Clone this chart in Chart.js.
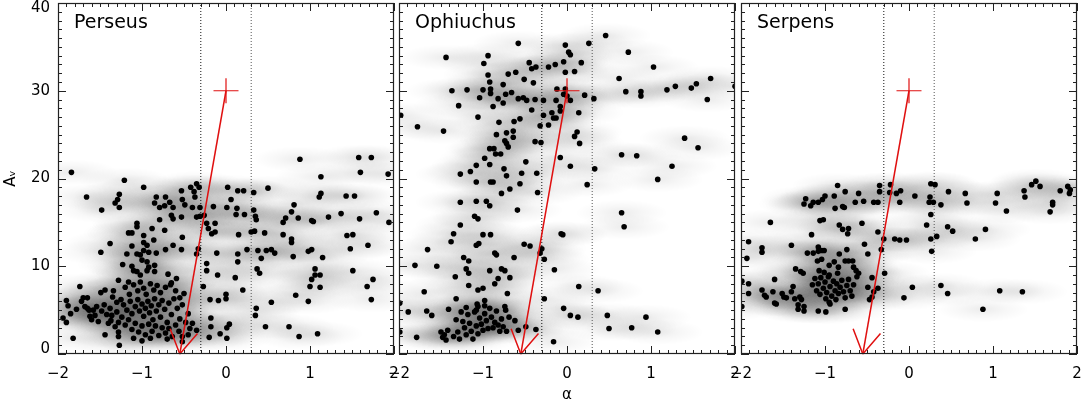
<!DOCTYPE html>
<html>
<head>
<meta charset="utf-8">
<script src="https://cdn.jsdelivr.net/npm/chart.js@4.4.0/dist/chart.umd.min.js"></script>
<style>
body { margin: 0; background: #fff; width: 1082px; height: 404px; overflow: hidden; position: relative; }
canvas { position: absolute; top: 0; }
</style>
</head>
<body>
<canvas id="c0" width="420" height="404" style="left:0px"></canvas>
<canvas id="c1" width="390" height="404" style="left:370px"></canvas>
<canvas id="c2" width="370" height="404" style="left:712px"></canvas>
<script>
var regions = ["Perseus", "Ophiuchus", "Serpens"];
var xTicks = [-2, -1, 0, 1, 2];
var yTicks = [0, 10, 20, 30, 40];
var cuts = [-0.3, 0.3];
var crossPt = [0, 30];
var arrowTip = [-0.55, 0];

// [alpha, A_V]
var perseusPts = [
 [-1.84,20.7],[-1.66,17.9],[-1.21,19.8],[-1.27,18.2],[-1.29,17.6],[-0.98,19.0],[-0.83,17.9],[-0.72,17.9],[-0.53,18.6],[-0.42,19.0],[-0.35,19.4],[-0.32,19.0],[-0.38,18.5],[-0.37,17.9],[-0.52,17.6],
 [0.02,19.0],[0.06,17.6],[0.14,18.6],[0.21,18.6],[0.33,18.4],[0.50,18.9],[0.88,22.2],[1.13,20.2],[1.13,18.3],[1.11,17.9],[1.43,18.0],[1.53,18.0],[1.58,22.4],[1.73,22.4],[1.60,20.7],[1.93,20.5],
 [-1.32,17.2],[-1.27,16.7],[-0.85,17.2],[-0.79,16.7],[-0.73,16.9],[-0.67,17.3],[-0.63,16.7],[-0.49,17.0],[-0.40,16.7],[-0.31,16.7],[-0.15,16.8],[0.01,16.7],[0.13,16.6],[0.22,15.9],[0.12,15.9],[0.33,16.4],[0.36,15.3],[0.35,15.7],
 [0.81,17.0],[0.78,16.2],[0.71,15.5],[0.68,15.0],[0.86,15.5],[1.02,15.2],[1.04,15.1],[1.22,15.6],[1.37,16.0],[1.59,15.4],[1.79,16.1],[1.94,15.0],
 [-1.48,16.4],[-0.65,15.8],[-0.63,15.4],[-0.53,15.6],[-0.35,15.6],[-0.31,15.7],[-0.26,15.8],[-0.23,14.9],[-0.13,14.9],[-0.21,14.3],[-0.17,13.7],[-0.13,13.9],
 [0.15,13.6],[0.30,13.9],[0.34,14.0],[0.46,13.8],[0.68,13.6],[0.78,13.1],[0.78,12.7],[1.44,13.5],[1.51,13.6],[1.69,12.4],[1.48,12.0],
 [-1.06,14.9],[-1.06,14.5],[-1.16,13.8],[-1.12,13.8],[-0.98,13.5],[-0.88,14.3],[-0.79,15.3],[-0.73,14.1],[-0.52,13.3],
 [-1.38,12.6],[-1.12,12.3],[-0.98,12.7],[-0.94,12.4],[-0.86,13.0],[-0.72,11.9],[-0.63,12.4],[-0.53,11.9],
 [-1.49,11.6],[-1.18,11.4],[-1.06,11.4],[-1.02,11.3],[-0.98,11.8],[-0.92,11.6],[-0.83,11.5],[-0.33,12.0],[-0.35,11.4],[-0.11,11.5],[0.14,11.4],[0.25,11.9],
 [0.38,11.8],[0.48,11.8],[0.54,11.9],[0.58,11.5],[0.80,11.1],[0.42,10.9],[1.15,11.0],[1.02,11.9],[0.98,11.7],[0.14,10.5],[-0.23,10.3],[-0.23,9.5],
 [-1.23,10.2],[-1.12,10.0],[-1.10,9.5],[-1.00,10.7],[-0.94,10.5],[-0.92,9.9],[-0.94,9.5],[-0.85,10.1],[-0.85,9.4],[-0.69,9.1],[-0.59,8.6],[-0.65,8.1],[-1.06,9.4],[-1.02,9.0],[-1.28,8.4],[-1.16,8.2],
 [0.37,9.7],[0.40,9.2],[1.06,9.7],[1.06,9.0],[1.12,9.0],[1.02,8.5],[1.00,7.7],[1.12,7.6],[1.51,9.5],[1.75,8.5],[1.68,7.7],[1.73,6.2],
 [-0.10,9.0],[0.11,8.7],[0.20,7.3],[-0.27,7.7],[0.83,6.7],[0.98,6.0],[0.54,5.9],[0.36,5.2],[0.35,4.4],[0.47,3.1],[0.75,3.1],[0.87,2.0],[1.09,2.3],
 [-0.19,6.2],[-0.09,6.1],[0.00,6.8],[0.00,6.3],[-0.18,4.1],[-0.18,3.1],[-0.07,2.3],[0.01,3.0],[0.01,1.8],[0.04,3.4],[-0.20,1.9],[-0.35,2.7],[-0.43,2.9],[-0.52,2.0],
 [-1.74,7.7],[-1.70,6.4],[-1.65,6.4],[-1.90,6.1],[-1.88,5.5],[-1.94,4.1],[-1.82,1.8],[-1.65,5.2],[-1.63,5.0],[-1.60,3.9],[-1.56,4.4],[-1.54,5.4],[-1.44,2.2],[-1.49,7.0],[-1.44,7.3],
 [-1.38,5.2],[-1.36,4.4],[-1.37,3.8],[-1.34,7.2],[-1.32,3.1],[-1.28,2.5],[-1.28,2.0],[-1.27,1.0],
 [-1.20,7.6],[-1.15,6.8],[-1.10,7.9],[-1.05,7.2],[-1.02,8.2],[-0.98,7.5],[-0.95,6.8],[-0.90,8.0],[-0.86,7.3],[-0.82,7.8],[-0.78,7.0],[-0.72,7.6],[-0.66,7.9],[-0.60,7.2],[-0.55,6.4],[-0.50,6.9],
 [-1.25,6.2],[-1.22,5.6],[-1.18,5.0],[-1.14,6.0],[-1.12,4.6],[-1.08,5.4],[-1.05,6.2],[-1.03,4.9],[-1.00,5.7],[-0.98,4.3],[-0.96,5.2],[-0.93,6.0],[-0.91,4.7],[-0.89,5.5],[-0.87,3.9],[-0.85,6.3],
 [-0.83,4.9],[-0.80,5.6],[-0.78,4.2],[-0.76,6.1],[-0.73,5.1],[-0.70,3.6],[-0.68,5.8],[-0.65,4.5],[-0.62,6.3],[-0.58,5.2],[-0.55,4.0],[-0.52,5.6],[-0.48,3.6],[-0.45,4.6],
 [-1.30,4.8],[-1.28,3.6],[-1.24,4.2],[-1.20,3.3],[-1.16,3.9],[-1.12,2.8],[-1.08,3.5],[-1.04,2.5],[-1.00,3.2],[-0.96,2.2],[-0.92,3.4],[-0.88,2.6],[-0.84,3.2],[-0.80,2.1],[-0.76,3.0],[-0.72,2.4],[-0.68,2.9],[-0.64,2.0],[-0.60,3.3],[-0.56,2.6],
 [-1.45,5.6],[-1.42,4.5],[-1.40,3.5],[-1.48,4.9],[-1.52,3.7],[-1.35,6.5],[-1.30,5.9],[-1.58,5.0],[-1.62,4.3],[-1.68,5.4],[-1.72,6.0],[-1.78,5.1],[-1.85,4.6],[-1.90,3.6],
 [-1.10,1.8],[-1.00,1.5],[-0.90,1.8],[-0.70,1.7],[-0.52,1.4],[-0.45,2.2],[-0.40,3.5]
];

var ophiuchusPts = [
 [-0.58,35.4],[-1.44,33.8],[-0.94,34.0],[-0.99,33.1],[-0.94,31.8],[-0.92,31.0],[-1.37,30.0],[-1.19,30.1],[-1.00,30.1],[-0.91,30.2],[-0.91,29.7],[-1.04,29.2],[-1.29,28.3],[-0.88,28.2],[-0.82,29.1],[-0.76,30.7],
 [-0.70,31.9],[-0.61,32.1],[-0.73,29.6],[-0.66,29.8],[-0.76,28.6],[-0.58,29.1],[-0.52,29.2],[-0.48,28.9],[-0.51,31.3],[-0.40,30.9],[-0.45,33.2],[-0.42,32.5],[-0.37,32.7],[-0.42,27.8],[-0.38,29.0],[-0.28,28.9],
 [-0.22,32.7],[-0.14,33.0],[-0.04,33.3],[-0.02,35.2],[0.02,34.4],[0.04,34.1],[-0.02,32.1],[0.09,32.2],[0.17,33.2],[0.26,35.4],[0.46,36.3],[0.73,34.4],[1.03,32.7],[0.62,31.4],[0.70,29.9],[0.88,29.9],[0.88,29.4],
 [1.19,30.1],[1.29,30.5],[1.48,30.3],[1.54,30.8],[1.71,31.4],[1.67,29.0],[2.00,30.5],
 [-0.12,30.2],[-0.04,29.6],[-0.02,30.2],[-0.13,28.9],[-0.08,28.2],[-0.08,27.7],[0.04,28.9],[0.00,29.4],[0.21,29.5],[0.32,29.1],[0.14,27.5],[-0.28,27.2],[-0.18,27.5],[-0.16,26.9],[-0.13,26.9],
 [-0.56,26.8],[-0.32,26.0],[-0.22,26.1],[-0.81,26.4],[-0.63,26.5],[-1.06,27.0],[-1.78,25.9],[-1.47,25.4],[-1.98,27.2],
 [-0.84,25.0],[-0.72,25.2],[-0.64,25.4],[-0.74,24.3],[-0.72,24.0],[-0.64,24.7],[-0.70,23.6],[-0.92,23.4],[-0.87,23.4],[-0.85,22.8],[-0.79,22.8],[-0.38,24.2],[-0.31,24.1],[0.09,24.8],[0.12,25.3],[0.15,24.0],
 [-0.08,22.4],[0.04,21.4],[-0.98,22.3],[-0.49,21.9],[-0.92,21.6],[-1.08,21.5],[-1.15,20.8],[-1.27,20.5],[-0.75,21.1],[-0.72,20.3],[-0.54,20.6],[-0.36,20.6],[-1.08,19.6],[-0.91,19.6],[-0.88,19.6],
 [-0.56,19.4],[-0.68,18.8],[-0.78,18.3],[-0.35,18.4],[0.24,19.3],[0.33,21.1],[0.65,22.7],[0.83,22.6],[1.40,24.6],[1.56,23.5],[1.25,21.4],[1.08,19.9],
 [-1.27,17.3],[-1.08,17.4],[-0.96,17.4],[-0.92,16.9],[-0.59,16.4],[-1.10,15.7],[-1.06,15.4],[-1.27,14.7],[-1.35,13.7],[-1.38,12.8],[-1.00,13.6],[-0.91,13.6],[-1.08,12.4],[-1.05,12.6],[-1.66,11.9],
 [-0.07,13.7],[-0.05,13.6],[-0.51,12.5],[-0.44,12.3],[-0.30,12.0],[-0.32,11.5],[-0.27,10.8],[-0.86,11.5],[-0.84,11.3],[-0.63,11.0],[-1.23,11.0],[-1.17,10.6],[-1.81,10.1],[-1.55,10.0],
 [-1.20,9.7],[-1.17,9.2],[-1.33,8.8],[-0.92,9.5],[-0.78,9.7],[-0.74,9.5],[-0.82,8.6],[-0.68,8.7],[-0.15,9.6],[-1.06,7.3],[-1.00,7.5],[-1.17,7.8],[-0.86,8.0],[-1.70,7.1],[-0.71,6.9],[0.14,7.7],[0.37,7.2],
 [-0.27,6.3],[-1.32,6.3],[-0.98,6.1],[-1.07,5.7],[-1.06,5.4],[-1.99,5.8],[-1.89,4.8],[-1.67,4.9],[-1.61,4.4],[-1.41,5.1],[-0.04,5.2],[0.04,4.4],[0.13,4.2],[0.48,4.4],[0.94,4.2],[0.50,2.9],[0.77,3.0],[1.08,2.5],
 [-0.16,1.4],[-1.79,1.9],[-1.99,2.5],[0.65,16.1],[0.68,14.5],[-0.49,3.1],[-0.37,2.8],[-0.62,3.8],[-0.58,2.7],[-0.74,5.4],[-0.73,5.0],[-0.69,4.2],
 [-1.50,2.5],[-1.48,1.9],[-1.46,2.2],[-1.44,1.6],[-1.42,2.7],[-1.35,2.0],[-1.30,2.5],[-1.28,1.7],[-1.24,3.7],[-1.22,3.0],[-1.20,2.2],[-1.18,4.5],[-1.16,3.5],[-1.14,2.6],[-1.12,1.7],[-1.10,4.8],
 [-1.08,3.2],[-1.06,2.3],[-1.04,4.1],[-1.02,3.4],[-1.00,2.7],[-0.98,4.6],[-0.96,3.8],[-0.94,2.9],[-0.92,5.2],[-0.90,4.2],[-0.88,3.0],[-0.86,3.6],[-0.84,4.9],[-0.82,3.3],[-0.80,2.6],[-0.78,4.0],
 [-0.76,3.1],[-0.72,2.6],[-1.26,4.8],[-1.20,5.3],[-1.08,5.0],[-0.98,5.5],[-1.32,3.9]
];

var serpensPts = [
 [-0.85,19.2],[-0.76,18.5],[-0.60,18.3],[-0.35,19.2],[-0.35,18.5],[-0.22,19.3],[-0.23,18.4],[-0.15,18.3],[-0.10,18.6],[0.07,18.0],[0.25,17.9],[0.26,19.4],[0.31,19.3],[0.47,18.5],[0.67,18.3],[1.05,18.3],
 [1.37,18.6],[1.38,17.9],[1.46,19.3],[1.51,19.7],[1.56,19.1],[1.80,18.6],[1.89,19.1],[1.92,18.7],[1.91,18.3],[-1.23,17.7],[-1.00,18.0],[-0.89,18.0],[-1.03,17.6],
 [-1.25,17.1],[-1.17,16.9],[-1.14,17.3],[-1.08,17.3],[-0.88,16.6],[-0.77,16.7],[-0.79,16.8],[-0.64,17.3],[-0.54,17.4],[-0.42,17.3],[-0.37,17.3],[-0.11,17.3],[0.24,17.3],[0.29,17.3],[0.38,17.0],
 [0.26,15.9],[0.69,17.2],[1.03,17.2],[1.16,16.3],[1.71,17.3],[1.71,17.0],[1.68,16.2],
 [-1.65,15.0],[-1.06,15.2],[-1.02,15.3],[-0.83,14.7],[-0.79,14.2],[-0.72,14.3],[-0.73,13.7],[-0.56,14.9],[-1.16,13.6],[0.21,14.7],[0.46,14.5],[0.52,14.0],[-0.37,13.9],[0.91,14.2],[0.79,13.1],
 [-0.17,13.1],[-0.11,13.0],[-0.03,13.0],[0.26,13.1],[0.33,13.4],[-0.30,13.1],
 [-1.91,12.8],[-1.75,12.1],[-1.75,11.6],[-1.40,12.4],[-1.08,12.2],[-1.04,11.8],[-1.01,11.8],[-1.08,11.7],[-1.21,11.5],[-1.14,11.5],[-0.83,11.4],[-0.74,11.9],[-0.53,12.5],[-0.49,11.4],[-0.33,11.9],[0.27,11.7],
 [-1.93,10.9],[-1.09,10.6],[-1.04,10.8],[-1.07,9.5],[-1.01,9.3],[-0.95,10.1],[-0.89,10.5],[-0.84,9.9],[-0.85,9.2],[-0.76,10.6],[-0.72,10.6],[-0.67,10.6],[-0.66,9.9],[-0.63,9.5],[-0.60,9.2],[-0.62,8.8],
 [-1.35,9.7],[-1.26,9.2],[-1.29,9.4],[-1.60,8.5],[-1.38,7.7],[-1.40,7.1],[-1.99,8.3],[-1.91,8.0],[-1.91,6.9],[-1.75,7.3],[-1.72,6.7],[-1.70,6.5],[-1.62,7.1],[-1.51,6.9],[-1.49,6.5],[-1.46,6.4],
 [-1.60,5.8],[-1.58,5.7],[-1.36,6.3],[-1.30,6.5],[-1.28,6.2],[-1.32,5.6],[-1.25,5.4],[-1.32,5.1],[-1.25,4.9],[-1.08,4.9],[-0.99,4.8],[-0.95,5.9],[-0.94,5.7],[-0.76,5.1],[-1.99,5.4],
 [-0.44,8.7],[-0.49,7.6],[-0.42,7.1],[-0.37,7.5],[-0.47,6.2],[-0.44,6.5],[-0.29,9.2],[0.04,7.6],[-0.06,6.4],[0.38,7.8],[0.46,6.9],[0.88,5.1],[1.08,7.2],[1.35,7.1],
 [-1.12,8.6],[-1.08,8.0],[-1.05,8.7],[-1.02,7.5],[-1.00,8.2],[-0.98,7.0],[-0.96,8.8],[-0.94,7.7],[-0.92,6.6],[-0.90,8.3],[-0.88,7.2],[-0.86,8.0],[-0.84,6.9],[-0.82,7.6],[-0.80,8.4],[-0.78,7.1],
 [-0.76,6.4],[-0.74,7.8],[-0.72,8.5],[-0.70,7.2],[-0.68,6.6],[-0.66,7.9],[-1.10,7.2],[-1.06,6.8],[-0.99,6.3],[-0.87,6.2],[-1.15,7.9],[-0.95,9.0]
];

var allPts = [perseusPts, ophiuchusPts, serpensPts];

function fmt(v) {
    return v < 0 ? "\u2212" + Math.abs(v) : String(v);
}

function toXY(arr) {
    return arr.map(function(p) { return { x: p[0], y: p[1] }; });
}

// grey smear under the dots, one elongated soft blob per star
var shadePlugin = {
    id: "shade",
    beforeDatasetsDraw: function(chart) {
        var ctx = chart.ctx, a = chart.chartArea;
        var xs = chart.scales.x, ys = chart.scales.y;
        var ds = chart.data.datasets.find(function(d) { return d.label === "stars"; });
        ctx.save();
        ctx.beginPath();
        ctx.rect(a.left, a.top, a.right - a.left, a.bottom - a.top);
        ctx.clip();
        ds.data.forEach(function(p) {
            var px = xs.getPixelForValue(p.x), py = ys.getPixelForValue(p.y);
            ctx.save();
            ctx.translate(px, py);
            ctx.scale(1, 0.28);
            var g = ctx.createRadialGradient(0, 0, 0, 0, 0, 46);
            g.addColorStop(0, "rgba(0,0,0,0.075)");
            g.addColorStop(0.5, "rgba(0,0,0,0.032)");
            g.addColorStop(1, "rgba(0,0,0,0)");
            ctx.fillStyle = g;
            ctx.fillRect(-46, -46, 92, 92);
            ctx.restore();
        });
        ctx.restore();
    }
};

// frame with inward ticks, arrow head and region name
var framePlugin = {
    id: "frame",
    afterDatasetsDraw: function(chart, args, opts) {
        var ctx = chart.ctx, a = chart.chartArea;
        var xs = chart.scales.x, ys = chart.scales.y;
        ctx.save();

        // arrow head
        var tx = xs.getPixelForValue(arrowTip[0]), ty = ys.getPixelForValue(arrowTip[1]);
        var sx = xs.getPixelForValue(crossPt[0]), sy = ys.getPixelForValue(crossPt[1]);
        var ang = Math.atan2(sy - ty, sx - tx);
        ctx.strokeStyle = "#e01010";
        ctx.lineWidth = 1.5;
        ctx.beginPath();
        [-0.54, 0.54].forEach(function(d) {
            ctx.moveTo(tx, ty);
            ctx.lineTo(tx + 27 * Math.cos(ang + d), ty + 27 * Math.sin(ang + d));
        });
        ctx.stroke();

        ctx.strokeStyle = "#222";
        ctx.lineWidth = 1;
        ctx.beginPath();
        for (var i = -20; i <= 20; i++) {
            var px = Math.round(xs.getPixelForValue(i / 10)) + 0.5;
            var len = (i % 10 === 0) ? 8 : 4;
            ctx.moveTo(px, a.bottom); ctx.lineTo(px, a.bottom - len);
            ctx.moveTo(px, a.top); ctx.lineTo(px, a.top + len);
        }
        for (var j = 0; j <= 40; j++) {
            var py = Math.round(ys.getPixelForValue(j)) + 0.5;
            var l2 = (j % 10 === 0) ? 8 : 4;
            ctx.moveTo(a.left, py); ctx.lineTo(a.left + l2, py);
            ctx.moveTo(a.right, py); ctx.lineTo(a.right - l2, py);
        }
        ctx.stroke();
        ctx.lineWidth = 1.2;
        ctx.strokeRect(a.left + 0.5, a.top + 0.5, a.right - a.left - 1, a.bottom - a.top - 1);

        ctx.fillStyle = "#000";
        ctx.font = "19px 'DejaVu Sans'";
        ctx.textBaseline = "middle";
        ctx.textAlign = "left";
        ctx.fillText(opts.name, a.left + 16, a.top + 20);
        ctx.restore();
    }
};

function makePanel(k) {
    var first = k === 0;
    var pts = allPts[k];
    var ctx = document.getElementById("c" + k).getContext("2d");
    var pads = [{ left: 0, right: 26 }, { left: 29, right: 25 }, { left: 29, right: 5 }][k];

    return new Chart(ctx, {
        type: "scatter",
        data: {
            datasets: [{
                label: "arrow",
                type: "line",
                data: [{ x: crossPt[0], y: crossPt[1] }, { x: arrowTip[0], y: arrowTip[1] }],
                borderColor: "#e01010",
                borderWidth: 1.5,
                pointRadius: 0,
                fill: false
            }, {
                label: "cross",
                data: [{ x: crossPt[0], y: crossPt[1] }],
                pointStyle: "cross",
                pointRadius: 12.5,
                borderColor: "#e01010",
                borderWidth: 1.2
            }, {
                label: "stars",
                data: toXY(pts),
                pointRadius: 2.8,
                borderWidth: 0,
                backgroundColor: "#000"
            }, {
                label: "cutLo",
                type: "line",
                data: [{ x: cuts[0], y: 0 }, { x: cuts[0], y: 40 }],
                borderColor: "#111",
                borderWidth: 1,
                borderDash: [1, 2],
                pointRadius: 0
            }, {
                label: "cutHi",
                type: "line",
                data: [{ x: cuts[1], y: 0 }, { x: cuts[1], y: 40 }],
                borderColor: "#555",
                borderWidth: 1,
                borderDash: [1, 2],
                pointRadius: 0
            }]
        },
        options: {
            responsive: false,
            animation: false,
            layout: { autoPadding: false, padding: { left: pads.left, right: pads.right, top: 3, bottom: 0 } },
            plugins: {
                legend: { display: false },
                tooltip: { enabled: false },
                frame: { name: regions[k] }
            },
            scales: {
                x: {
                    type: "linear",
                    min: -2,
                    max: 2,
                    afterBuildTicks: function(s) { s.ticks = xTicks.map(function(v) { return { value: v }; }); },
                    afterFit: function(s) { s.height = 50; s.paddingLeft = 0; s.paddingRight = 0; },
                    grid: { display: false, drawTicks: false },
                    border: { display: false },
                    ticks: {
                        autoSkip: false,
                        maxRotation: 0,
                        padding: 11,
                        color: "#000",
                        font: { family: "DejaVu Sans", size: 15 },
                        callback: function(v) { return fmt(v); }
                    },
                    title: {
                        display: k === 1,
                        text: "\u03b1",
                        color: "#000",
                        font: { family: "DejaVu Sans", size: 15 },
                        padding: { top: 0, bottom: 0 }
                    }
                },
                y: {
                    type: "linear",
                    min: 0,
                    max: 40,
                    display: first,
                    afterBuildTicks: function(s) { s.ticks = yTicks.map(function(v) { return { value: v }; }); },
                    afterFit: function(s) {
                        if (first) { s.width = 58; }
                        s.paddingTop = 0; s.paddingBottom = 0;
                    },
                    grid: { display: false, drawTicks: false },
                    border: { display: false },
                    ticks: {
                        padding: 8,
                        color: "#000",
                        font: { family: "DejaVu Sans", size: 15, lineHeight: "10px" },
                        callback: function(v) {
                            if (v === 40) return ["", "40"];
                            if (v === 0) return ["0", ""];
                            return String(v);
                        }
                    },
                    title: {
                        display: first,
                        text: "A\u1d65",
                        color: "#000",
                        font: { family: "DejaVu Sans", size: 15 },
                        padding: { top: 2, bottom: 0 }
                    }
                }
            }
        },
        plugins: [shadePlugin, framePlugin]
    });
}

makePanel(0);
makePanel(1);
makePanel(2);
</script>
</body>
</html>
